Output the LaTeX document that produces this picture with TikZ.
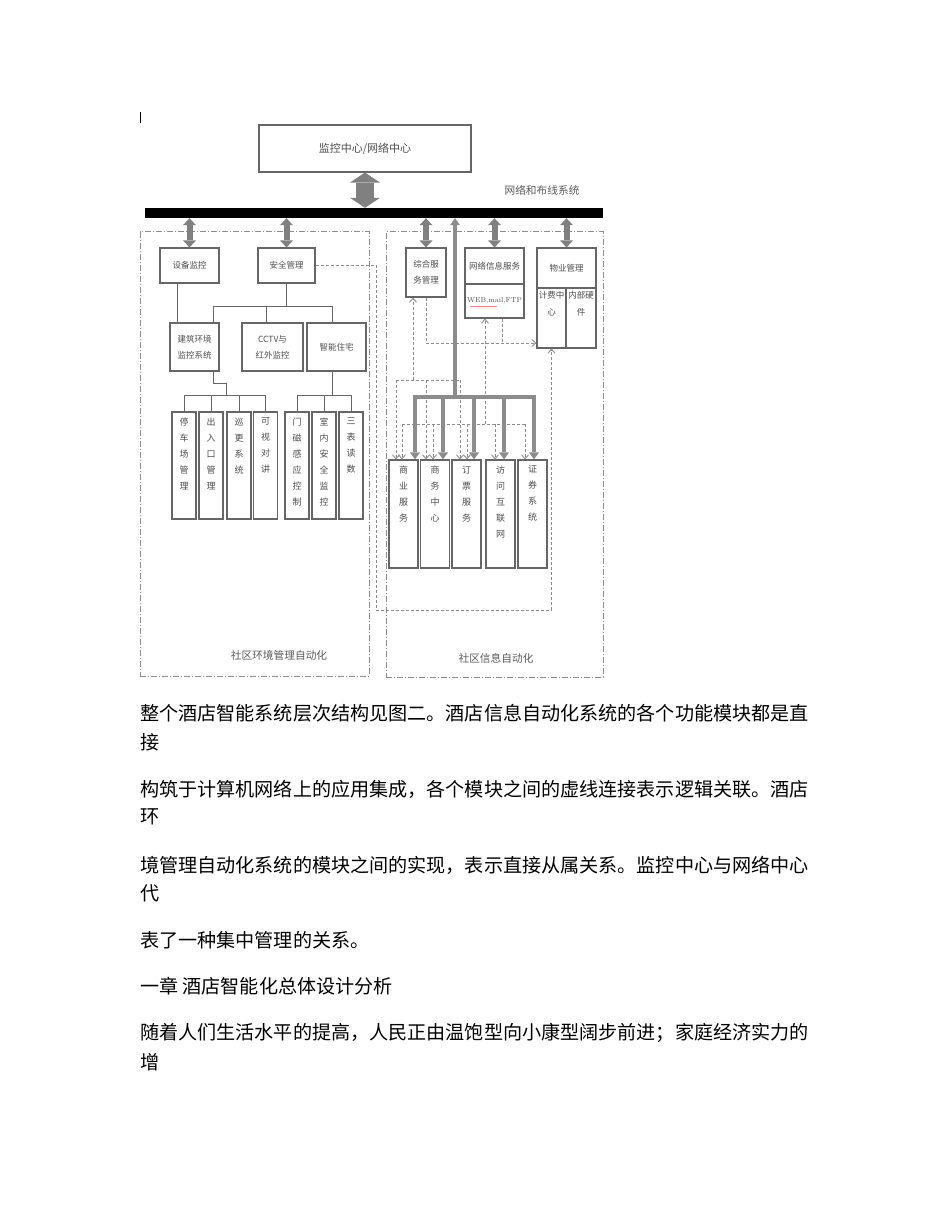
\documentclass[tikz,border=0pt]{standalone}
\usepackage{fontspec}
\newfontfamily\cjk{Noto Sans CJK SC}
\usetikzlibrary{arrows.meta}

\begin{document}
\begin{tikzpicture}[x=1pt, y=-1pt,
    box/.style = {draw=black!60, line width=1.1pt, inner sep=0pt, align=center, text=black!70, font=\cjk\fontsize{8.5}{16}\selectfont},
    col/.style = {box, minimum width=24, minimum height=107},
    rcol/.style = {box, minimum width=29, minimum height=108},
    vt/.style = {anchor=north, yshift=-6, inner sep=0pt, align=center, text=black!70, font=\cjk\fontsize{9}{16}\selectfont},
    region/.style = {draw=black!45, line width=1pt, dash pattern=on 6pt off 2pt on 1pt off 2pt, inner sep=0pt},
    tag/.style = {text=black!65, font=\cjk\fontsize{10.7}{12}\selectfont},
    wire/.style = {draw=black!60, line width=1pt},
    dsh/.style = {draw=black!45, line width=0.9pt, dash pattern=on 3pt off 2pt, >={Straight Barb[length=4pt,width=7pt]}},
    fat/.style = {draw=black!45, line width=4pt, >={Triangle[length=7pt,width=10pt,line width=0pt]}},
    dbl/.style = {draw=black!50, line width=6pt, {Triangle[length=7pt,width=13pt,line width=0pt]}-{Triangle[length=7pt,width=13pt,line width=0pt]}},
    txt/.style = {anchor=west, inner sep=0pt, font=\cjk\fontsize{19.1}{22}\selectfont}]
\useasboundingbox (0,0) rectangle (950,1230);
\draw[line width=1pt] (140,112) -- (140,123);

% top: monitoring centre and network bar
\node[box, minimum width=212, minimum height=47, font=\cjk\fontsize{11}{13}\selectfont] (1) at (365,148.5) {监控中心/网络中心};
\node[fill=black, inner sep=0pt, minimum width=458, minimum height=10] (bar) at (374,213) {};
\node[tag] (0) at (542,190) {网络和布线系统};
\draw[dbl, line width=18pt, {Triangle[length=10pt,width=30pt,line width=0pt]}-{Triangle[length=10pt,width=30pt,line width=0pt]}] (1.south) -- (1.south |- bar.north);

% two regions
\node[region, minimum width=229, minimum height=444] (L) at (254.5,454) {};
\node[region, minimum width=217, minimum height=445] (R) at (494.5,454.5) {};
\node[tag] (l1) at (279,655) {社区环境管理自动化};
\node[tag] (l2) at (496,658) {社区信息自动化};

% left side
\node[box, minimum width=59, minimum height=35] (2) at (189.5,265.5) {设备监控};
\node[box, minimum width=57, minimum height=35] (3) at (286.5,265.5) {安全管理};
\node[box, minimum width=49, minimum height=48] (4) at (194.5,347) {建筑环境\\监控系统};
\node[box, minimum width=61, minimum height=48] (5) at (272.5,347) {CCTV与\\红外监控};
\node[box, minimum width=59, minimum height=48] (6) at (336.5,347) {智能住宅};
\node[col, label={[vt]north:停\\车\\场\\管\\理}] (7) at (184,465.5) {};
\node[col, label={[vt]north:出\\入\\口\\管\\理}] (8) at (211,465.5) {};
\node[col, label={[vt]north:巡\\更\\系\\统}] (9) at (239,465.5) {};
\node[col, label={[vt]north:可\\视\\对\\讲}] (10) at (265.5,465.5) {};
\node[col, label={[vt]north:门\\磁\\感\\应\\控\\制}] (11) at (297,465.5) {};
\node[col, label={[vt]north:室\\内\\安\\全\\监\\控}] (12) at (324,465.5) {};
\node[col, label={[vt]north:三\\表\\读\\数}] (13) at (351,465.5) {};

% right side
\node[box, minimum width=40, minimum height=49] (15) at (426,272.5) {综合服\\务管理};
\node[box, minimum width=59, minimum height=36] (16) at (494.5,266) {网络信息服务};
\node[box, minimum width=59, minimum height=34, font=\fontsize{7}{9}\selectfont] (17) at (494.5,301) {WEB,mail,FTP};
\node[box, minimum width=59, minimum height=40] (18) at (566.5,268) {物业管理};
\node[box, minimum width=29, minimum height=60, label={[vt, yshift=2, font=\cjk\fontsize{8.5}{17}\selectfont]north:计费中\\心}] (19) at (551.5,318) {};
\node[box, minimum width=30, minimum height=60, label={[vt, yshift=2, font=\cjk\fontsize{8.5}{17}\selectfont]north:内部硬\\件}] (20) at (581,318) {};
\node[rcol, label={[vt]north:商\\业\\服\\务}] (21) at (403.5,514) {};
\node[rcol, label={[vt]north:商\\务\\中\\心}] (22) at (435,514) {};
\node[rcol, label={[vt]north:订\\票\\服\\务}] (23) at (466.5,514) {};
\node[rcol, label={[vt]north:访\\问\\互\\联\\网}] (24) at (500.5,514) {};
\node[rcol, label={[vt]north:证\\券\\系\\统}] (25) at (532.5,514) {};
\draw[red!45, line width=0.6pt] (470,306) -- (497,306);

% bar to modules
\foreach \n in {2,3,15,16,18}
    \draw[dbl] (bar.south -| \n.north) -- (\n.north);

% left tree
\coordinate (j1) at (213,306);
\coordinate (j2) at (332,306);
\coordinate (j3) at (226,395);
\draw[wire] ([xshift=-12]2.south) -- ([xshift=-12]2.south |- 4.north);
\draw[wire] (3.south) -- (3.south |- j1);
\draw[wire] (j1) -- (j2);
\draw[wire] (j1) -- (j1 |- 4.north);
\draw[wire] ([xshift=-6]5.north |- j1) -- ([xshift=-6]5.north);
\draw[wire] (j2) -- (j2 |- 6.north);
\draw[wire] (j1 |- 4.south) -- ++(0,12) -| (j3);
\draw[wire] (7.north |- j3) -- (10.north |- j3);
\draw[wire] (j2 |- 6.south) -- (j2 |- j3);
\draw[wire] (11.north |- j3) -- (13.north |- j3);
\foreach \n in {7,...,13}
    \draw[wire] (\n.north |- j3) -- (\n.north);

% right distribution
\coordinate (hub) at (455,397);
\draw[fat,->] (hub) -- (bar.south -| hub);
\draw[fat, line cap=rect] (415,0 |- hub) -- (534,0 |- hub);
\foreach \x/\n in {415/21,443/22,474/23,504/24,534/25}
    \draw[fat,->] (\x,0 |- hub) -- (\x,0 |- \n.north);

% logical links
\coordinate (k1) at (376,610);
\coordinate (k2) at (426,343);
\coordinate (k3) at (396,380);
\coordinate (k4) at (402,424);
\draw[dsh,->] (3.east) -| (k1) -| (19.south);
\draw[dsh,->] (15.south) |- (19.west |- k2);
\draw[dsh] (502,0 |- 17.south) -- (502,0 |- k2);
\draw[dsh] (k3) -- (460,0 |- k3);
\draw[dsh,->] (413,0 |- k3) -- (413,0 |- 15.south);
\foreach \x/\n in {396/21,426/22,460/23}
    \draw[dsh,->] (\x,0 |- k3) -- (\x,0 |- \n.north);
\draw[dsh] (k4) -- (526,0 |- k4);
\draw[dsh,->] (485,0 |- k4) -- (485,0 |- 17.south);
\foreach \x/\n in {402/21,433/22,467/23,495/24,525/25}
    \draw[dsh,->] (\x,0 |- k4) -- (\x,0 |- \n.north);

% text below
\node[txt] (p1) at (140,713) {整个酒店智能系统层次结构见图二。酒店信息自动化系统的各个功能模块都是直};
\node[txt] (p2) at (140,742) {接};
\node[txt] (p3) at (140,789) {构筑于计算机网络上的应用集成，各个模块之间的虚线连接表示逻辑关联。酒店};
\node[txt] (p4) at (140,817) {环};
\node[txt] (p5) at (140,865) {境管理自动化系统的模块之间的实现，表示直接从属关系。监控中心与网络中心};
\node[txt] (p6) at (140,893) {代};
\node[txt] (p7) at (140,940) {表了一种集中管理的关系。};
\node[txt] (p8) at (140,986) {一章 酒店智能化总体设计分析};
\node[txt] (p9) at (140,1033) {随着人们生活水平的提高，人民正由温饱型向小康型阔步前进；家庭经济实力的};
\node[txt] (p10) at (140,1062) {增};
\end{tikzpicture}
\end{document}
